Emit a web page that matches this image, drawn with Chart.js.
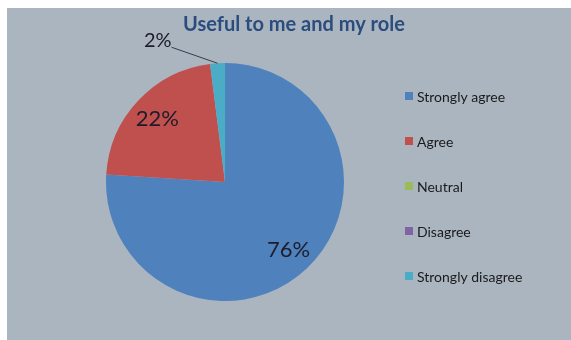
<!DOCTYPE html>
<html>
<head>
<meta charset="utf-8">
<script src="https://cdn.jsdelivr.net/npm/chart.js@4"></script>
<style>
  body { margin: 0; background: #ffffff; }
  #box { position: absolute; left: 7px; top: 8px; width: 564px; height: 332px; background: #aab5c0; }
</style>
</head>
<body>
<div id="box"><canvas id="pie-chart" width="564" height="332"></canvas></div>
<script>
// ---- Data ---- //
const title = "Useful to me and my role";
const categories = ["Strongly agree", "Agree", "Neutral", "Disagree", "Strongly disagree"];
const values = [76, 22, 0, 0, 2];
const colors = ["#4f81bd", "#c0504d", "#9bbb59", "#8064a2", "#4bacc6"];

// ---- Title, legend and % labels ---- //
const textPlugin = {
    id: "textPlugin",
    afterDraw(chart) {
        const ctx = chart.ctx;
        ctx.save();

        // title
        ctx.fillStyle = "#2b4d7e";
        ctx.font = "bold 20px Lato";
        ctx.textAlign = "center";
        ctx.textBaseline = "alphabetic";
        ctx.fillText(title, 287, 23);

        // legend
        ctx.font = "14px Lato";
        ctx.textAlign = "left";
        ctx.textBaseline = "middle";
        categories.forEach((name, i) => {
            const y = 88 + i * 45;
            ctx.fillStyle = colors[i];
            ctx.fillRect(398, y - 4, 8, 8);
            ctx.fillStyle = "#1a1a1a";
            ctx.fillText(name, 410, y + 1);
        });

        // percentage labels
        const meta = chart.getDatasetMeta(0);
        const total = values.reduce((a, b) => a + b, 0);
        meta.data.forEach((arc, i) => {
            if (!values[i]) return;
            const pct = Math.round(values[i] / total * 100) + "%";
            const p = arc.getProps(["x", "y", "startAngle", "endAngle", "outerRadius"], true);
            const mid = (p.startAngle + p.endAngle) / 2;
            ctx.fillStyle = "#1c1c2a";
            if (values[i] / total > 0.05) {
                ctx.font = "22px Lato";
                ctx.textAlign = "center";
                ctx.textBaseline = "middle";
                const r = p.outerRadius * 0.78;
                ctx.fillText(pct, p.x + Math.cos(mid) * r, p.y + Math.sin(mid) * r);
            } else {
                const sx = p.x + Math.cos(mid) * p.outerRadius;
                const sy = p.y + Math.sin(mid) * p.outerRadius;
                const ex = sx - 46, ey = sy - 16;
                ctx.strokeStyle = "#3a3a4a";
                ctx.lineWidth = 1;
                ctx.beginPath();
                ctx.moveTo(sx, sy);
                ctx.lineTo(ex, ey);
                ctx.stroke();
                ctx.font = "20px Lato";
                ctx.textAlign = "right";
                ctx.textBaseline = "alphabetic";
                ctx.fillText(pct, ex, ey);
            }
        });
        ctx.restore();
    }
};

const ctx1 = document.getElementById("pie-chart");
let pieChart = new Chart(ctx1, {
    type: 'pie',
    data: {
        labels: categories,
        datasets: [{
            data: values,
            backgroundColor: colors,
            borderWidth: 0
        }]
    },
    options: {
        responsive: false,
        animation: false,
        layout: { padding: { left: 99, right: 227, top: 55, bottom: 39 } },
        plugins: {
            legend: { display: false },
            tooltip: { enabled: false }
        }
    },
    plugins: [textPlugin]
});
</script>
</body>
</html>
